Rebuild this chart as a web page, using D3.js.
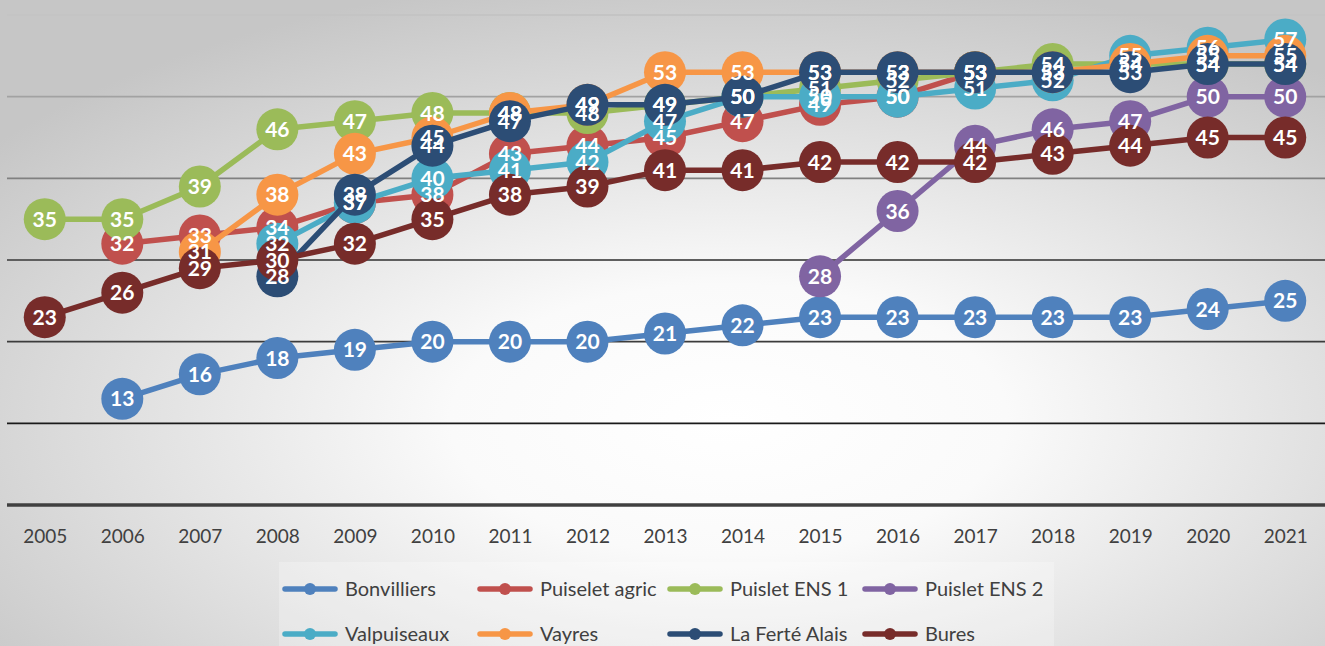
<!DOCTYPE html>
<html><head><meta charset="utf-8">
<script src="https://cdn.jsdelivr.net/npm/d3@7"></script>
<style>html,body{margin:0;padding:0;overflow:hidden;}svg{display:block;}</style>
</head><body>
<script>
const years = ["2005","2006","2007","2008","2009","2010","2011","2012","2013","2014","2015","2016","2017","2018","2019","2020","2021"];
const yTicks = [10,20,30,40,50,60];
const bonvilliers   = [null,13,16,18,19,20,20,20,21,22,23,23,23,23,23,24,25];
const puiseletAgric = [null,32,33,34,37,38,43,44,45,47,49,50,53,null,null,null,null];
const puisletENS1   = [35,35,39,46,47,48,48,48,49,50,51,52,53,54,54,54,54];
const puisletENS2   = [null,null,null,null,null,null,null,null,null,null,28,36,44,46,47,50,50];
const valpuiseaux   = [null,null,null,32,37,40,41,42,47,50,50,50,51,52,55,56,57];
const vayres        = [null,null,31,38,43,45,48,49,53,53,53,53,53,53,54,55,55];
const laFerte       = [null,null,null,28,38,44,47,49,49,50,53,53,53,53,53,54,54];
const bures         = [23,26,29,30,32,35,38,39,41,41,42,42,42,43,44,45,45];
const seriesNames = ["Bonvilliers","Puiselet agric","Puislet ENS 1","Puislet ENS 2","Valpuiseaux","Vayres","La Ferté Alais","Bures"];
const seriesValues = [bonvilliers,puiseletAgric,puisletENS1,puisletENS2,valpuiseaux,vayres,laFerte,bures];
const colors = ["#4F81BD","#C0504D","#9BBB59","#8064A2","#4BACC6","#F79646","#2C4D75","#772C2A"];

const W=1325,H=646;
const svg=d3.select("body").append("svg").attr("width",W).attr("height",H);
const defs=svg.append("defs");
const rg=defs.append("radialGradient").attr("id","bg").attr("cx","0.55").attr("cy","0.65").attr("r","0.7");
rg.append("stop").attr("offset","0").attr("stop-color","#ffffff");
rg.append("stop").attr("offset","0.3").attr("stop-color","#fafafa");
rg.append("stop").attr("offset","1").attr("stop-color","#c6c6c6");
svg.append("rect").attr("width",W).attr("height",H).attr("fill","url(#bg)");

const x=d3.scalePoint().domain(years).range([6,1324]).padding(0.5);
const y=d3.scaleLinear().domain([0,60]).range([505,15]);

const gridColor=d3.scaleLinear().domain([60,10]).range(["#c4c4c4","#1a1a1a"]);
const grid=svg.append("g");
grid.selectAll("line").data(yTicks).join("line")
 .attr("x1",7).attr("x2",W).attr("y1",d=>y(d)).attr("y2",d=>y(d))
 .attr("stroke",d=>gridColor(d)).attr("stroke-width",1.8);

const xAxis=svg.append("g").attr("transform",`translate(0,${y(0)})`)
 .call(d3.axisBottom(x).tickSize(0).tickPadding(25));
xAxis.select(".domain").attr("d",`M7,0H${W}`).attr("stroke","#404040").attr("stroke-width",3.5);
xAxis.selectAll("text").attr("font-family","Lato, 'Open Sans', sans-serif").attr("font-size",19).attr("fill","#404040");

const line=d3.line().defined(d=>d.v!=null).x(d=>x(d.yr)).y(d=>y(d.v));
const plot=svg.append("g");
seriesValues.forEach((vals,i)=>{
  const pts=years.map((yr,j)=>({yr,v:vals[j]}));
  const g=plot.append("g");
  g.append("path").datum(pts).attr("d",line).attr("fill","none")
   .attr("stroke",colors[i]).attr("stroke-width",5.5).attr("stroke-linejoin","round");
  g.selectAll("circle").data(pts.filter(d=>d.v!=null)).join("circle")
   .attr("cx",d=>x(d.yr)).attr("cy",d=>y(d.v)).attr("r",21).attr("fill",colors[i]);
});
const labels=svg.append("g");
seriesValues.forEach((vals,i)=>{
  const pts=years.map((yr,j)=>({yr,v:vals[j]})).filter(d=>d.v!=null);
  labels.append("g").selectAll("text").data(pts).join("text")
   .attr("x",d=>x(d.yr)).attr("y",d=>y(d.v)).attr("dy","0.36em")
   .attr("text-anchor","middle").attr("font-family","Lato, 'Open Sans', sans-serif")
   .attr("font-weight","bold").attr("font-size",21).attr("fill","#ffffff").text(d=>d.v);
});

// legend
const legPos=[[285,589],[480,589],[670,589],[865,589],[285,634],[480,634],[670,634],[865,634]];
const leg=svg.append("g");
leg.append("rect").attr("x",279).attr("y",562).attr("width",775).attr("height",84).attr("fill","#ffffff").attr("opacity",0.25);
seriesNames.forEach((n,i)=>{
  const [lx,ly]=legPos[i];
  const g=leg.append("g");
  g.append("line").attr("x1",lx).attr("x2",lx+50).attr("y1",ly).attr("y2",ly)
   .attr("stroke",colors[i]).attr("stroke-width",5.5).attr("stroke-linecap","round");
  g.append("circle").attr("cx",lx+25).attr("cy",ly).attr("r",6).attr("fill",colors[i]);
  g.append("text").attr("x",lx+60).attr("y",ly).attr("dy","0.35em")
   .attr("font-family","Lato, 'Open Sans', sans-serif").attr("font-size",20).attr("fill","#404040").text(n);
});
</script>
</body></html>
